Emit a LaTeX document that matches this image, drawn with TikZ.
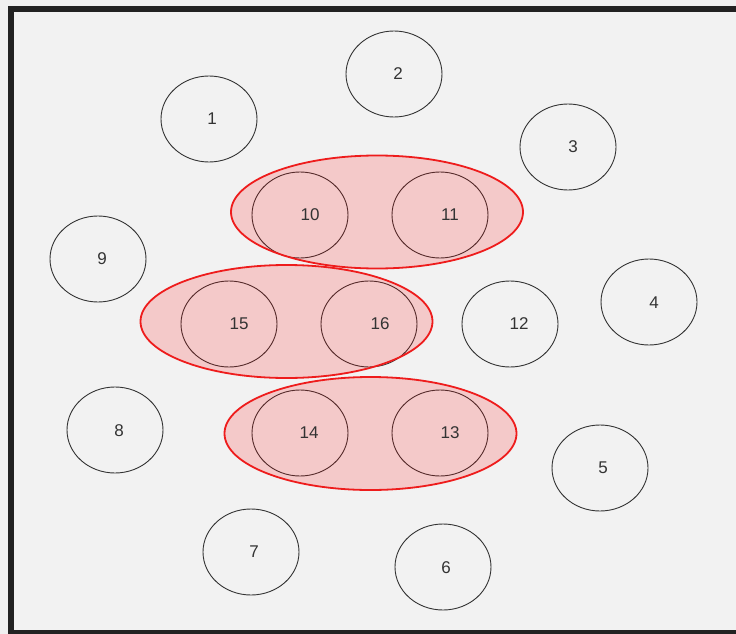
\documentclass[tikz,border=0pt]{standalone}
\usepackage{fontspec}
\setmainfont{Liberation Sans}
\usetikzlibrary{shapes.geometric}
\definecolor{framec}{HTML}{222222}
\definecolor{outbg}{HTML}{F0F0F0}
\definecolor{inbg}{HTML}{F2F2F2}
\definecolor{circline}{HTML}{333333}
\definecolor{grpred}{HTML}{EE1C1C}
\begin{document}
\begin{tikzpicture}[x=1pt,y=-1pt,
  circ/.style={ellipse,draw=circline,line width=0.9pt,minimum width=96pt,minimum height=86pt,inner sep=0pt},
  grp/.style={ellipse,draw=grpred,line width=1.8pt,fill=red,fill opacity=0.17,draw opacity=1,minimum width=292pt,minimum height=113pt,inner sep=0pt},
  lbl/.style={inner sep=0pt,text=circline,font=\fontsize{17}{20}\selectfont}]
\useasboundingbox (0,0) rectangle (736,634);
\fill[outbg] (0,0) rectangle (736,634);
\fill[framec] (8,6) rectangle (736,634);
\fill[inbg] (14,12) rectangle (736,630);
% circles
\node[circ] (c1) at (209,119) {};
\node[circ] (c2) at (394,74) {};
\node[circ] (c3) at (568,147) {};
\node[circ] (c4) at (649,302) {};
\node[circ] (c5) at (600,468) {};
\node[circ] (c6) at (443,567) {};
\node[circ] (c7) at (251,552) {};
\node[circ] (c8) at (115,430) {};
\node[circ] (c9) at (98,259) {};
\node[circ] (c10) at (300,215) {};
\node[circ] (c11) at (440,215) {};
\node[circ] (c12) at (510,324) {};
\node[circ] (c13) at (440,433) {};
\node[circ] (c14) at (300,433) {};
\node[circ] (c15) at (229,324) {};
\node[circ] (c16) at (369,324) {};
% group ellipses
\node[grp] (g1) at (377,212) {};
\node[grp] (g2) at (286.5,321.5) {};
\node[grp] (g3) at (370.5,433.5) {};
% labels
\node[lbl] (l1) at (212,119) {1};
\node[lbl] (l2) at (398,74) {2};
\node[lbl] (l3) at (573,147) {3};
\node[lbl] (l4) at (654,303) {4};
\node[lbl] (l5) at (603,468) {5};
\node[lbl] (l6) at (446,568) {6};
\node[lbl] (l7) at (254,552) {7};
\node[lbl] (l8) at (119,431) {8};
\node[lbl] (l9) at (102,259) {9};
\node[lbl] (l10) at (310,215) {10};
\node[lbl] (l11) at (450,215) {11};
\node[lbl] (l12) at (519,324) {12};
\node[lbl] (l13) at (450,433) {13};
\node[lbl] (l14) at (309,433) {14};
\node[lbl] (l15) at (239,324) {15};
\node[lbl] (l16) at (380,324) {16};
\end{tikzpicture}
\end{document}
